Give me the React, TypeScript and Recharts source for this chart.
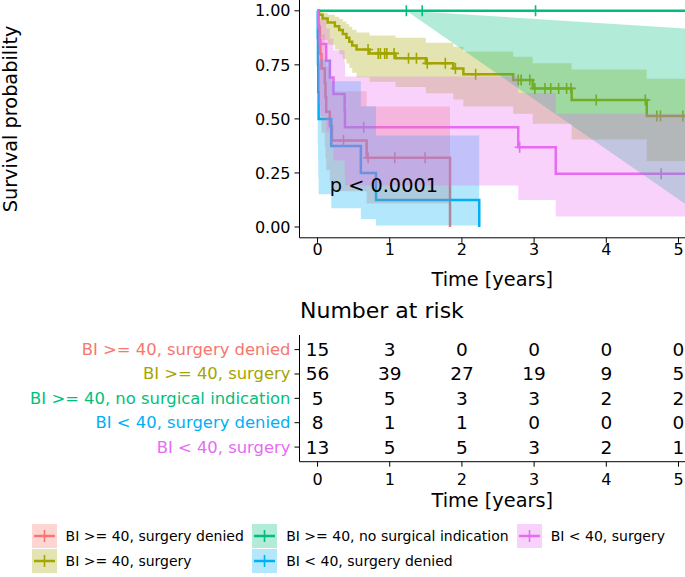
import React from "react";
import {
  ComposedChart,
  Line,
  Area,
  Scatter,
  XAxis,
  YAxis,
  Label,
  ReferenceDot,
} from "recharts";

const FONT = '"DejaVu Sans", Verdana, sans-serif';

const groups = [
  "BI >= 40, surgery denied",
  "BI >= 40, surgery",
  "BI >= 40, no surgical indication",
  "BI < 40, surgery denied",
  "BI < 40, surgery",
];
const colors = ["#F8766D", "#A3A500", "#00BF7D", "#00B0F6", "#E76BF3"];

const timeTicks = [0, 1, 2, 3, 4, 5];
const survTicks = [0, 0.25, 0.5, 0.75, 1];

// BI >= 40, surgery denied
const redTime = [0, 0.01, 0.02, 0.04, 0.055, 0.1, 0.11, 0.12, 0.17, 0.2, 0.68, 1.835];
const redSurv = [1, 0.933, 0.867, 0.8, 0.733, 0.667, 0.6, 0.533, 0.467, 0.4, 0.32, 0];
const redLower = [1, 0.613, 0.564, 0.5, 0.436, 0.375, 0.318, 0.263, 0.212, 0.165, 0.109, 0.109];
const redUpper = [1, 0.99, 0.965, 0.931, 0.89, 0.846, 0.797, 0.744, 0.688, 0.628, 0.557, 0.557];
const redCensorT = [0.36, 0.7, 1.07, 1.49];
const redCensorS = [0.4, 0.32, 0.32, 0.32];

// BI >= 40, surgery
const oliveTime = [0, 0.02, 0.07, 0.14, 0.24, 0.3, 0.35, 0.4, 0.44, 0.48, 0.54, 0.72, 1.08, 1.5, 1.88, 2.02, 2.71, 2.98, 3.52, 4.56, 5.25];
const oliveSurv = [1, 0.982, 0.964, 0.946, 0.929, 0.911, 0.893, 0.875, 0.857, 0.839, 0.821, 0.803, 0.78, 0.757, 0.733, 0.706, 0.68, 0.641, 0.587, 0.513, 0.513];
const oliveLower = [1, 0.88, 0.865, 0.843, 0.821, 0.799, 0.777, 0.756, 0.735, 0.714, 0.693, 0.672, 0.647, 0.619, 0.59, 0.557, 0.524, 0.478, 0.405, 0.305, 0.305];
const oliveUpper = [1, 0.997, 0.991, 0.982, 0.973, 0.962, 0.95, 0.938, 0.926, 0.912, 0.9, 0.886, 0.875, 0.852, 0.834, 0.812, 0.788, 0.758, 0.728, 0.686, 0.686];
const oliveCensorT = [0.7, 0.84, 0.87, 0.93, 0.96, 1.06, 1.26, 1.37, 1.52, 1.77, 1.91, 2.19, 2.78, 2.82, 2.94, 3.01, 3.15, 3.23, 3.34, 3.45, 3.51, 3.86, 4.54, 4.7, 4.75, 5.06];
const oliveCensorS = [0.821, 0.803, 0.803, 0.803, 0.803, 0.803, 0.78, 0.78, 0.757, 0.757, 0.733, 0.706, 0.68, 0.68, 0.68, 0.641, 0.641, 0.641, 0.641, 0.641, 0.641, 0.587, 0.587, 0.513, 0.513, 0.513];

// BI >= 40, no surgical indication
const greenTime = [0, 5.25];
const greenSurv = [1, 1];
const greenBandTime = [1.23, 5.25];
const greenLower = [1, 0.07];
const greenUpper = [1, 0.915];
const greenCensorT = [1.23, 1.45, 3.02];
const greenCensorS = [1, 1, 1];

// BI < 40, surgery denied
const blueTime = [0, 0.003, 0.006, 0.01, 0.015, 0.19, 0.6, 0.81, 2.24];
const blueSurv = [1, 0.875, 0.75, 0.625, 0.5, 0.375, 0.25, 0.125, 0];
const blueLower = [1, 0.387, 0.315, 0.229, 0.152, 0.087, 0.037, 0.0066, 0.0066];
const blueUpper = [1, 0.981, 0.931, 0.861, 0.775, 0.674, 0.558, 0.423, 0.423];
const blueCensorT: number[] = [];
const blueCensorS: number[] = [];

// BI < 40, surgery
const magTime = [0, 0.01, 0.03, 0.12, 0.17, 0.22, 0.375, 0.38, 2.78, 3.3, 5.25];
const magSurv = [1, 0.923, 0.846, 0.769, 0.692, 0.615, 0.538, 0.4615, 0.369, 0.246, 0.246];
const magLower = [1, 0.567, 0.512, 0.442, 0.373, 0.308, 0.248, 0.192, 0.125, 0.048, 0.048];
const magUpper = [1, 0.989, 0.959, 0.919, 0.872, 0.818, 0.76, 0.696, 0.62, 0.524, 0.524];
const magCensorT = [0.64, 2.8, 4.76];
const magCensorS = [0.4615, 0.369, 0.246];

// number at risk
const riskRed = [15, 3, 0, 0, 0, 0];
const riskOlive = [56, 39, 27, 19, 9, 5];
const riskGreen = [5, 5, 3, 3, 2, 2];
const riskBlue = [8, 1, 1, 0, 0, 0];
const riskMag = [13, 5, 5, 3, 2, 1];

const steps = (time: number[], surv: number[]) => time.map((t, i) => ({ t, s: surv[i] }));
const band = (time: number[], lo: number[], hi: number[]) =>
  time.map((t, i) => ({ t, lo: lo[i], hi: hi[i] }));

const curves = [
  steps(redTime, redSurv),
  steps(oliveTime, oliveSurv),
  steps(greenTime, greenSurv),
  steps(blueTime, blueSurv),
  steps(magTime, magSurv),
];
const bands = [
  { data: band(redTime, redLower, redUpper), type: "stepAfter" },
  { data: band(oliveTime, oliveLower, oliveUpper), type: "stepAfter" },
  { data: band(greenBandTime, greenLower, greenUpper), type: "linear" },
  { data: band(blueTime, blueLower, blueUpper), type: "stepAfter" },
  { data: band(magTime, magLower, magUpper), type: "stepAfter" },
];
const censors = [
  steps(redCensorT, redCensorS),
  steps(oliveCensorT, oliveCensorS),
  steps(greenCensorT, greenCensorS),
  steps(blueCensorT, blueCensorS),
  steps(magCensorT, magCensorS),
];
const risk = [riskRed, riskOlive, riskGreen, riskBlue, riskMag];

// x range used by both panels (plot is cut at the right edge)
const xDomain = [-0.25, 5.09];

const cross = (color: string) => (p: any) =>
  p.cx == null ? <g /> : (
    <path
      d={`M${p.cx - 5},${p.cy}h10M${p.cx},${p.cy - 5.5}v11`}
      stroke={color}
      strokeWidth={1.6}
      fill="none"
    />
  );

function SurvivalPlot() {
  return (
    <ComposedChart width={685} height={300} margin={{ top: 0, right: 0, bottom: 0, left: 0 }}>
      <XAxis
        type="number"
        dataKey="t"
        domain={xDomain}
        ticks={timeTicks}
        allowDataOverflow
        height={62.2}
        tickSize={5}
        tickMargin={1}
        stroke="#000"
        tick={{ fill: "#000", fontSize: 16, fontFamily: FONT }}
      >
        <Label
          content={(p: any) => (
            <text
              x={p.viewBox.x + p.viewBox.width / 2}
              y={p.viewBox.y + 42}
              textAnchor="middle"
              dominantBaseline="central"
              fontSize={19.3}
              fontFamily={FONT}
              fill="#000"
            >
              Time [years]
            </text>
          )}
        />
      </XAxis>
      <YAxis
        type="number"
        domain={[-0.05, 1.05]}
        ticks={survTicks}
        allowDataOverflow
        width={299.5}
        tickSize={5}
        tickMargin={4}
        stroke="#000"
        tickFormatter={(v: number) => v.toFixed(2)}
        tick={{ fill: "#000", fontSize: 16, fontFamily: FONT }}
      >
        <Label
          content={(p: any) => {
            const x = p.viewBox.x + 11;
            const y = p.viewBox.y + p.viewBox.height / 2;
            return (
              <text
                x={x}
                y={y}
                transform={`rotate(-90 ${x} ${y})`}
                textAnchor="middle"
                dominantBaseline="central"
                fontSize={19.3}
                fontFamily={FONT}
                fill="#000"
              >
                Survival probability
              </text>
            );
          }}
        />
      </YAxis>
      {curves.map((d, i) => (
        <Line
          key={"l" + i}
          data={d}
          dataKey="s"
          type="stepAfter"
          stroke={colors[i]}
          strokeWidth={2.5}
          dot={false}
          activeDot={false}
          isAnimationActive={false}
          zIndex={400}
        />
      ))}
      {censors.map((d, i) => (
        <Scatter
          key={"c" + i}
          data={d}
          dataKey="s"
          shape={cross(colors[i])}
          isAnimationActive={false}
          zIndex={600}
        />
      ))}
      {bands.map((b, i) => (
        <Area
          key={"a" + i}
          data={b.data}
          dataKey={(d: any) => [d.lo, d.hi]}
          type={b.type as any}
          stroke="none"
          fill={colors[i]}
          fillOpacity={0.3}
          dot={false}
          activeDot={false}
          isAnimationActive={false}
          zIndex={700}
        />
      ))}
      <ReferenceDot
        x={0.17}
        y={0.194}
        r={0}
        zIndex={800}
        shape={(p: any) => (
          <text
            x={p.cx}
            y={p.cy}
            dominantBaseline="central"
            fontSize={19.3}
            fontFamily={FONT}
            fill="#000"
          >
            p &lt; 0.0001
          </text>
        )}
      />
    </ComposedChart>
  );
}

const TableTick = (p: any) => (
  <text
    x={p.x}
    y={p.y + 10.6}
    textAnchor="middle"
    dominantBaseline="central"
    fontSize={16}
    fontFamily={FONT}
    fill="#000"
  >
    {p.payload.value}
  </text>
);

const RowTick = (p: any) => {
  const i = p.payload.value - 1;
  return (
    <text
      x={p.x}
      y={p.y}
      textAnchor="end"
      dominantBaseline="central"
      fontSize={16.4}
      fontFamily={FONT}
      fill={colors[i]}
    >
      {groups[i]}
    </text>
  );
};

const countText = (p: any) =>
  p.cx == null ? <g /> : (
    <text
      x={p.cx}
      y={p.cy}
      textAnchor="middle"
      dominantBaseline="central"
      fontSize={18.5}
      fontFamily={FONT}
      fill="#000"
    >
      {p.payload.n}
    </text>
  );

function RiskTable() {
  return (
    <ComposedChart width={685} height={230} margin={{ top: 45, right: 0, bottom: 0, left: 0 }}>
      <XAxis
        type="number"
        dataKey="t"
        domain={xDomain}
        ticks={timeTicks}
        allowDataOverflow
        height={58.3}
        tickSize={5}
        tickMargin={2}
        stroke="#000"
        tick={<TableTick />}
      >
        <Label
          content={(p: any) => (
            <text
              x={p.viewBox.x + p.viewBox.width / 2}
              y={p.viewBox.y + 38.3}
              textAnchor="middle"
              dominantBaseline="central"
              fontSize={19.3}
              fontFamily={FONT}
              fill="#000"
            >
              Time [years]
            </text>
          )}
        />
      </XAxis>
      <YAxis
        type="number"
        domain={[0.4, 5.6]}
        ticks={[1, 2, 3, 4, 5]}
        reversed
        width={299.5}
        tickSize={5}
        tickMargin={4}
        stroke="#000"
        tick={<RowTick />}
      />
      {risk.map((r, i) => (
        <Scatter
          key={"r" + i}
          data={timeTicks.map((t, j) => ({ t, row: i + 1, n: r[j] }))}
          dataKey="row"
          shape={countText}
          isAnimationActive={false}
        />
      ))}
    </ComposedChart>
  );
}

const legendCols = [[0, 1], [2, 3], [4]];
const legendColWidths = [220.6, 264.5, 170];

function KeySwatch({ color }: { color: string }) {
  return (
    <svg width={25} height={24} style={{ display: "block", flex: "none" }}>
      <rect x={0} y={0} width={25} height={24} fill={color} fillOpacity={0.3} />
      <line x1={2} x2={23} y1={12} y2={12} stroke={color} strokeWidth={2.5} />
      <line x1={12.5} x2={12.5} y1={6} y2={18} stroke={color} strokeWidth={1.6} />
    </svg>
  );
}

function ChartLegend() {
  return (
    <div
      style={{
        position: "absolute",
        left: 31.6,
        top: 524,
        display: "flex",
        fontSize: 14,
        color: "#000",
      }}
    >
      {legendCols.map((col, ci) => (
        <div key={ci} style={{ width: legendColWidths[ci], flex: "none" }}>
          {col.map((gi) => (
            <div
              key={gi}
              style={{ display: "flex", alignItems: "center", height: 24, marginBottom: 1 }}
            >
              <KeySwatch color={colors[gi]} />
              <span style={{ marginLeft: 9, whiteSpace: "nowrap" }}>{groups[gi]}</span>
            </div>
          ))}
        </div>
      ))}
    </div>
  );
}

export default function App() {
  return (
    <div
      style={{
        position: "absolute",
        left: 0,
        top: 0,
        width: 685,
        height: 577,
        overflow: "hidden",
        background: "#fff",
        fontFamily: FONT,
      }}
    >
      <div style={{ position: "absolute", left: 0, top: 0 }}>
        <SurvivalPlot />
      </div>
      <div style={{ position: "absolute", left: 0, top: 290 }}>
        <RiskTable />
      </div>
      <div
        style={{
          position: "absolute",
          left: 300,
          top: 298,
          fontSize: 22,
          lineHeight: "26px",
          color: "#000",
          whiteSpace: "nowrap",
        }}
      >
        Number at risk
      </div>
      <ChartLegend />
    </div>
  );
}
